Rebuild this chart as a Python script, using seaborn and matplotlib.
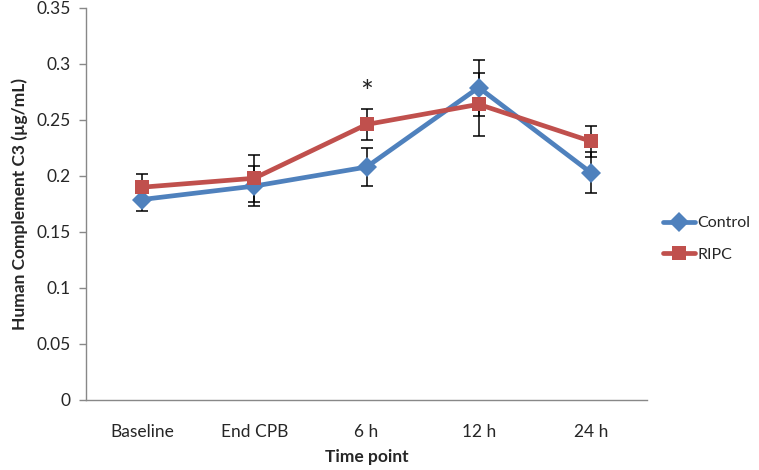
import numpy as np
import pandas as pd
import matplotlib
matplotlib.use('Agg')
import matplotlib.pyplot as plt
import seaborn as sns

# values
time_points = ['Baseline', 'End CPB', '6 h', '12 h', '24 h']
control_mean = [0.179, 0.191, 0.208, 0.279, 0.203]
control_err = [0.010, 0.018, 0.017, 0.025, 0.018]
ripc_mean = [0.190, 0.198, 0.246, 0.264, 0.231]
ripc_err = [0.012, 0.021, 0.014, 0.028, 0.014]
y_ticks = [0, 0.05, 0.1, 0.15, 0.2, 0.25, 0.3, 0.35]
y_tick_labels = ['0', '0.05', '0.1', '0.15', '0.2', '0.25', '0.3', '0.35']

sns.set_style('white')
plt.rcParams['font.family'] = ['Lato', 'DejaVu Sans']

pos = np.arange(len(time_points))
df = pd.DataFrame({
    'pos': np.concatenate([pos, pos]),
    'value': control_mean + ripc_mean,
    'group': ['Control'] * len(pos) + ['RIPC'] * len(pos),
})

fig = plt.figure(figsize=(7.59, 4.70), dpi=100)
ax = fig.add_axes([86 / 759, 1 - 400 / 470, (647 - 86) / 759, (400 - 8) / 470])

palette = {'Control': '#4F81BD', 'RIPC': '#C0504D'}

# error bars first so they sit behind the markers
ax.errorbar(pos, control_mean, yerr=control_err, fmt='none', ecolor='black',
            elinewidth=1.1, capsize=4, capthick=1.1, zorder=1)
ax.errorbar(pos, ripc_mean, yerr=ripc_err, fmt='none', ecolor='black',
            elinewidth=1.1, capsize=4, capthick=1.1, zorder=1)

sns.lineplot(data=df, x='pos', y='value', hue='group', style='group',
             markers={'Control': 'D', 'RIPC': 's'}, dashes=False,
             palette=palette, linewidth=3.4, markersize=10.5,
             markeredgewidth=0, ax=ax, zorder=2)

# significance mark at 6 h
ax.text(2, 0.274, '*', ha='center', va='center', fontsize=22)

ax.set_xlim(-0.5, len(time_points) - 0.5)
ax.set_ylim(0, 0.35)
ax.set_yticks(y_ticks)
ax.set_yticklabels(y_tick_labels)
ax.set_xticks(pos)
ax.set_xticklabels(time_points)
ax.set_xticks(np.arange(-0.5, len(time_points)), minor=True)
ax.tick_params(axis='x', which='major', length=0, pad=17, labelsize=12.5)
ax.tick_params(axis='x', which='minor', length=5, color='#888888', width=1)
ax.tick_params(axis='y', which='major', length=5, color='#888888', width=1,
               left=True, labelsize=12.5, pad=6)

for side in ['top', 'right']:
    ax.spines[side].set_visible(False)
for side in ['left', 'bottom']:
    ax.spines[side].set_color('#888888')
    ax.spines[side].set_linewidth(1)

ax.set_xlabel('Time point', fontsize=12.5, fontweight='bold', labelpad=7)
ax.set_ylabel('Human Complement C3 (µg/mL)', fontsize=12.5, fontweight='bold', labelpad=6)

handles, labels = ax.get_legend_handles_labels()
ax.legend(handles, labels, loc='center left', bbox_to_anchor=(663 / 759, 1 - 239 / 470),
          bbox_transform=fig.transFigure, frameon=False, fontsize=11.5,
          borderpad=0, borderaxespad=0,
          handlelength=2.0, handletextpad=0.15, labelspacing=1.1)

fig.savefig('out.png', dpi=100)
